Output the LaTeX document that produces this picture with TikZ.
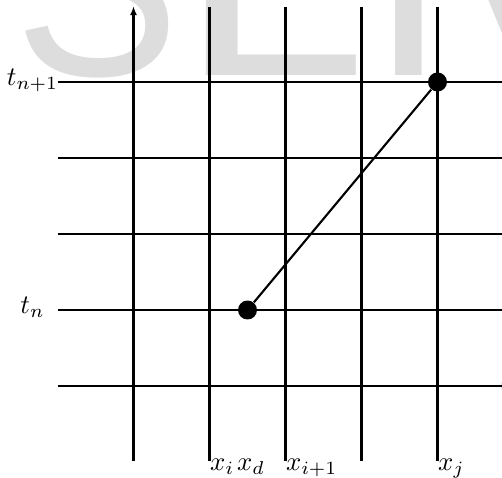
\documentclass[tikz,border=0pt]{standalone}
\usepackage{fontspec}
\usetikzlibrary{arrows.meta}
\newfontfamily\wmfont{Liberation Sans}
\definecolor{wmgray}{RGB}{221,221,221}
\begin{document}
\begin{tikzpicture}[x=0.37438pt,y=-0.37438pt,
  gridline/.style={line width=0.8pt, draw=black},
  axistip/.style={-{Latex[length=3.4pt,width=2.6pt]}},
  wm/.style={inner sep=0pt, anchor=base west, text=wmgray, font=\wmfont\fontsize{101}{101}\selectfont, transform shape},
  dotnode/.style={circle, fill=black, inner sep=0pt, minimum size=7.1pt},
  lab/.style={inner sep=0pt}]
\useasboundingbox (0,0) rectangle (502,477);
\clip (0,0) rectangle (502,477);
% watermark
\begin{scope}[shift={(14,75)}, xscale=0.92]
  \node[wm] (wS) at (0,0) {S};
\end{scope}
\begin{scope}[shift={(178,75)}, xscale=1.26]
  \node[wm] (wL) at (0,0) {L};
\end{scope}
\begin{scope}[shift={(368.6,75)}, xscale=1.05]
  \node[wm] (wI) at (0,0) {I};
\end{scope}
\node[wm] (wV) at (441.5,75) {V};
% grid
\foreach \x in {209.5,285.5,361.5,437.5} \draw[gridline] (\x,7) -- (\x,461);
\draw[gridline,axistip] (133.5,461) -- (133.5,6);
\foreach \y in {82,158,234,310} \draw[gridline] (57.7,\y) -- (513.5,\y);
\draw[gridline,axistip] (57.7,386) -- (511,386);
% points
\node[dotnode] (p) at (247.5,310) {};
\node[dotnode] (q) at (437.5,82) {};
\draw[gridline] (p) -- (q);
% labels
\node[lab, anchor=base] (tn1) at (32.5,85) {$t_{n+1}$};
\node[lab, anchor=base] (tn) at (32.5,313.5) {$t_n$};
\node[lab, anchor=base west] (xi) at (209.5,470) {$x_i$};
\node[lab, anchor=base west] (xd) at (236.5,470) {$x_d$};
\node[lab, anchor=base west] (xi1) at (285.5,470) {$x_{i+1}$};
\node[lab, anchor=base west] (xj) at (437.5,470) {$x_j$};
\end{tikzpicture}
\end{document}
